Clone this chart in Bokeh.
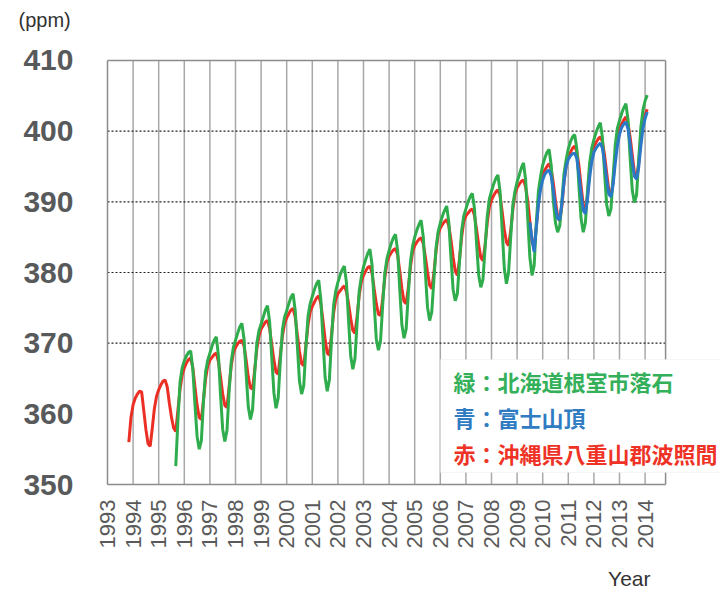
import math
from bokeh.plotting import figure
from bokeh.models import Range1d, FixedTicker, Label, BoxAnnotation, Title
from bokeh.embed import file_html
from bokeh.resources import INLINE

# ---------------- data (monthly values, ppm) ----------------
YEARS = list(range(1993, 2015))
Y_TICKS = [350, 360, 370, 380, 390, 400, 410]
DOTTED_LEVELS = [370, 380, 390, 400]

# plotting box of the chart (data units)
X0, X1 = 1993.0, 2014.8
Y0, Y1 = 350.0, 410.0

RED_START = (1993, 11)   # 沖縄県八重山郡波照間
red = [
    356.0, 359.5,
    361.3, 362.2, 362.8, 363.2, 363.1, 360.5, 357.8, 355.8, 355.4, 358.0, 360.8, 362.5,
    363.4, 364.1, 364.6, 364.8, 363.8, 361.5, 359.5, 358.0, 357.5, 360.5, 363.5, 365.5,
    366.5, 367.2, 367.7, 367.9, 366.5, 363.8, 361.2, 359.5, 359.2, 362.0, 365.0, 366.8,
    367.6, 368.0, 368.4, 368.6, 367.4, 365.2, 362.8, 361.2, 360.9, 363.8, 366.8, 368.6,
    369.4, 369.9, 370.3, 370.4, 369.6, 367.6, 365.2, 363.7, 363.5, 366.2, 369.2, 371.0,
    372.0, 372.5, 373.0, 373.2, 372.1, 369.8, 367.6, 365.9, 365.6, 368.3, 371.0, 372.8,
    373.6, 374.2, 374.7, 374.9, 373.7, 371.2, 368.8, 367.1, 366.8, 369.6, 372.6, 374.4,
    375.2, 375.8, 376.4, 376.7, 375.6, 373.2, 370.6, 368.6, 368.3, 371.2, 374.3, 376.2,
    377.0, 377.4, 377.8, 378.1, 377.3, 375.6, 373.5, 371.8, 371.4, 373.8, 376.8, 378.7,
    379.6, 380.2, 380.7, 380.9, 379.9, 377.7, 375.6, 374.1, 373.9, 376.3, 379.3, 381.4,
    382.3, 382.8, 383.2, 383.4, 382.5, 380.2, 377.7, 375.9, 375.6, 377.8, 380.8, 382.9,
    383.8, 384.3, 384.7, 384.9, 384.1, 382.2, 380.1, 378.2, 377.7, 379.9, 383.0, 385.4,
    386.3, 386.8, 387.2, 387.5, 386.6, 384.6, 382.2, 380.2, 379.6, 381.9, 385.0, 387.2,
    388.0, 388.4, 388.8, 389.0, 388.1, 386.1, 383.9, 382.1, 381.7, 383.9, 387.0, 389.3,
    390.3, 390.9, 391.4, 391.7, 390.9, 388.6, 386.1, 384.3, 383.8, 385.9, 388.9, 391.1,
    392.0, 392.5, 392.9, 393.1, 392.1, 390.1, 387.2, 384.3, 383.6, 386.4, 389.9, 392.7,
    393.8, 394.5, 395.0, 395.4, 394.6, 392.6, 390.1, 388.0, 387.3, 389.4, 392.9, 395.1,
    396.3, 397.0, 397.6, 397.9, 397.1, 395.1, 392.2, 389.6, 388.7, 390.9, 394.4, 396.8,
    397.8, 398.4, 398.9, 399.2, 398.5, 396.6, 394.1, 391.6, 390.8, 392.9, 396.4, 398.9,
    400.2, 401.0, 401.6, 402.0, 401.1, 399.1, 396.6, 394.1, 393.4, 395.4, 398.9, 401.3,
    402.3, 403.1,
]

GREEN_START = (1995, 9)  # 北海道根室市落石
green = [
    352.6, 359.0, 364.5, 366.5,
    367.5, 368.2, 368.7, 368.9, 366.3, 361.3, 356.8, 355.0, 356.2, 361.8, 366.0, 367.6,
    368.6, 369.6, 370.4, 370.9, 368.2, 362.6, 357.8, 356.1, 357.6, 363.2, 367.4, 369.4,
    370.4, 371.4, 372.3, 372.8, 370.6, 365.6, 361.0, 359.2, 360.6, 365.8, 370.0, 371.8,
    372.7, 373.7, 374.7, 375.3, 373.0, 368.0, 363.0, 360.8, 362.2, 367.4, 371.9, 373.7,
    374.6, 375.6, 376.5, 377.0, 374.6, 369.6, 364.6, 362.8, 364.0, 369.4, 373.8, 375.6,
    376.6, 377.6, 378.4, 378.9, 376.2, 370.6, 365.2, 363.2, 364.8, 370.4, 375.4, 377.4,
    378.6, 379.6, 380.4, 380.9, 378.6, 373.2, 368.2, 366.3, 367.8, 372.9, 377.4, 379.4,
    380.8, 381.8, 382.7, 383.3, 381.1, 375.6, 370.6, 369.0, 370.4, 375.4, 379.9, 382.0,
    383.1, 384.1, 384.9, 385.4, 383.1, 377.6, 372.6, 370.7, 372.0, 377.0, 381.5, 383.7,
    385.0, 386.0, 386.8, 387.4, 385.1, 380.0, 375.1, 373.2, 374.4, 379.0, 383.5, 385.8,
    387.0, 388.0, 388.8, 389.4, 387.1, 382.1, 377.6, 376.0, 377.0, 381.5, 385.9, 388.0,
    389.0, 390.0, 390.7, 391.2, 389.1, 384.1, 379.6, 377.9, 379.0, 383.5, 387.9, 390.4,
    391.5, 392.5, 393.3, 393.8, 391.5, 386.1, 380.6, 378.4, 380.0, 385.0, 389.5, 391.5,
    392.8, 393.8, 394.8, 395.5, 393.1, 387.6, 382.1, 379.6, 381.0, 387.0, 391.5, 393.6,
    395.2, 396.2, 397.0, 397.4, 395.1, 390.1, 387.0, 385.7, 386.6, 390.1, 394.0, 396.0,
    397.5, 398.5, 399.2, 399.5, 397.5, 392.1, 387.6, 385.7, 387.0, 391.5, 395.5, 397.6,
    398.8, 399.8, 400.6, 401.2, 399.1, 394.1, 389.6, 388.0, 389.0, 393.5, 398.0, 400.4,
    401.5, 402.5, 403.3, 403.9, 401.6, 396.1, 391.6, 389.9, 391.0, 396.0, 400.5, 403.0,
    404.3, 405.1,
]

BLUE_START = (2009, 7)   # 富士山頂
blue = [
    387.1, 384.6, 382.9, 386.3, 389.6, 391.8,
    393.1, 393.9, 394.3, 394.5, 393.6, 391.6, 389.2, 387.6, 387.5, 389.8, 392.8, 395.0,
    396.0, 396.5, 396.8, 396.9, 396.1, 393.8, 391.1, 388.8, 388.3, 390.4, 393.4, 395.7,
    397.0, 397.6, 398.0, 398.3, 397.6, 395.6, 393.1, 391.1, 390.7, 392.4, 395.4, 397.9,
    399.5, 400.5, 401.0, 401.3, 400.3, 398.1, 395.6, 393.6, 393.2, 394.9, 397.9, 400.4,
    401.8, 402.7,
]

LEGEND = [
    ("緑：北海道根室市落石", "#35b05a"),
    ("青：富士山頂", "#2f7cc2"),
    ("赤：沖縄県八重山郡波照間", "#ee3326"),
]


def times(start, n):
    y0, m0 = start
    return [y0 + (m0 - 1 + i) / 12.0 for i in range(n)]


# ---------------- figure ----------------
W, H = 719, 590
LEFT, TOP, BOTTOM = 104, 57, 100
PX_PER_YEAR = 25.6
PX_PER_PPM = 7.117
PAD = 3.0
x_start = X0 - PAD / PX_PER_YEAR
x_end = x_start + (W - LEFT) / PX_PER_YEAR
y_start = Y0 - PAD / PX_PER_PPM
y_end = Y1 + PAD / PX_PER_PPM

p = figure(width=W, height=H, output_backend="svg", toolbar_location=None,
           x_range=Range1d(x_start, x_end), y_range=Range1d(y_start, y_end),
           min_border_left=LEFT, min_border_right=0, min_border_top=TOP,
           min_border_bottom=BOTTOM)
p.background_fill_color = "white"
p.border_fill_color = "white"
p.outline_line_color = None
p.xgrid.visible = False
p.ygrid.visible = False

# vertical year lines and dotted horizontal lines
p.segment(x0=YEARS[1:], x1=YEARS[1:], y0=[Y0] * (len(YEARS) - 1), y1=[Y1] * (len(YEARS) - 1),
          line_color="#a8a8a8", line_width=1.5)
p.segment(x0=[X0] * len(DOTTED_LEVELS), x1=[X1] * len(DOTTED_LEVELS),
          y0=DOTTED_LEVELS, y1=DOTTED_LEVELS,
          line_color="#222222", line_dash="2 2", line_width=1.2)
# chart border
p.segment(x0=[X0, X0, X0, X1], x1=[X1, X1, X0, X1], y0=[Y0, Y1, Y0, Y0], y1=[Y0, Y1, Y1, Y1],
          line_color="#8c8c8c", line_width=1.5)

# axes
p.yaxis.ticker = FixedTicker(ticks=Y_TICKS)
p.yaxis.axis_line_color = None
p.yaxis.major_tick_line_color = None
p.yaxis.major_tick_out = 0
p.yaxis.major_tick_in = 0
p.yaxis.minor_tick_line_color = None
p.yaxis.major_label_text_font = "Liberation Sans"
p.yaxis.major_label_text_font_style = "bold"
p.yaxis.major_label_text_font_size = "30px"
p.yaxis.major_label_text_color = "#58595b"
p.yaxis.major_label_standoff = 31

p.xaxis.ticker = FixedTicker(ticks=YEARS)
p.xaxis.major_label_overrides = {y: str(y) for y in YEARS}
p.xaxis.major_label_orientation = math.pi / 2
p.xaxis.axis_line_color = None
p.xaxis.major_tick_line_color = None
p.xaxis.major_tick_out = 0
p.xaxis.major_tick_in = 0
p.xaxis.minor_tick_line_color = None
p.xaxis.major_label_text_font = "Liberation Sans"
p.xaxis.major_label_text_font_size = "22px"
p.xaxis.major_label_text_color = "#5a5a5a"
p.xaxis.major_label_standoff = 12

# series
p.line(times(RED_START, len(red)), red, line_color="#ec2f25", line_width=3)
p.line(times(GREEN_START, len(green)), green, line_color="#2fac4c", line_width=3)
p.line(times(BLUE_START, len(blue)), blue, line_color="#2b79c6", line_width=3)

# legend box and texts
box = BoxAnnotation(left=336, right=700, top=128, bottom=15,
                    left_units="screen", right_units="screen",
                    top_units="screen", bottom_units="screen",
                    fill_color="white", fill_alpha=1.0,
                    line_color="#dedede", line_width=1, level="overlay")
p.add_layout(box)
for i, (txt, col) in enumerate(LEGEND):
    p.add_layout(Label(x=349, y=107 - 36 * i, x_units="screen", y_units="screen",
                       text=txt, text_color=col, text_font="Noto Sans CJK JP",
                       text_font_style="bold", text_font_size="22px",
                       text_baseline="middle", level="overlay"))

# unit text above the chart (a blank spacer title keeps it higher up)
p.add_layout(Title(text=" ", standoff=7, text_font_size="14px"), "above")
p.add_layout(Title(text="(ppm)", align="left", offset=-86, standoff=4,
                   text_font="Liberation Sans", text_font_size="20px",
                   text_font_style="normal", text_color="#333333"), "above")
# axis name below the year labels (spacer pushes it lower)
p.add_layout(Title(text=" ", standoff=4, text_font_size="6px"), "below")
p.add_layout(Title(text="Year", align="right", offset=69, standoff=2,
                   text_font="Liberation Sans", text_font_size="21px",
                   text_font_style="normal", text_color="#333333"), "below")

open("out.html", "w").write(file_html(p, INLINE))
